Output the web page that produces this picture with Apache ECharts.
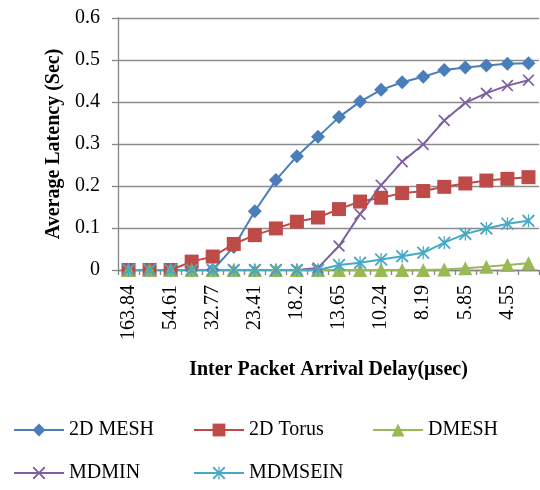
<!DOCTYPE html>
<html>
<head>
<meta charset="utf-8">
<script src="https://cdn.jsdelivr.net/npm/echarts@6/dist/echarts.min.js"></script>
<style>html,body{margin:0;padding:0;background:#fff}#c{width:540px;height:490px}</style>
</head>
<body>
<div id="c"></div>
<script>
var categories = ['163.84','81.92','54.61','40.96','32.77','27.31','23.41','20.48','18.2','16.38','13.65','11.7','10.24','9.1','8.19','6.83','5.85','5.12','4.55','4.1'];
var mesh2d  = [0,0,0,0,0,0.055,0.14,0.214,0.271,0.317,0.364,0.401,0.429,0.447,0.46,0.476,0.482,0.487,0.491,0.492];
var torus2d = [0,0,0,0.02,0.032,0.062,0.083,0.099,0.115,0.125,0.145,0.163,0.172,0.183,0.188,0.198,0.206,0.213,0.217,0.221];
var dmesh   = [0,0,0,0,0,0,0,0,0,0,0,0,0,0,0,0.001,0.004,0.008,0.012,0.016];
var mdmin   = [0,0,0,0,0,0,0,0,0,0.005,0.057,0.133,0.202,0.258,0.299,0.356,0.398,0.421,0.439,0.452];
var mdmsein = [0,0,0,0,0,0,0,0,0,0,0.012,0.017,0.025,0.033,0.041,0.065,0.086,0.099,0.11,0.117];
var yTicks = [0,0.1,0.2,0.3,0.4,0.5,0.6];

var X_PATH = 'path://M0,10 L10,0 L50,40 L90,0 L100,10 L60,50 L100,90 L90,100 L50,60 L10,100 L0,90 L40,50 Z';
var STAR_PATH = 'path://M0,10 L10,0 L50,40 L90,0 L100,10 L60,50 L100,90 L90,100 L50,60 L10,100 L0,90 L40,50 Z M45,0 L55,0 L55,100 L45,100 Z';
var serif = '"Liberation Serif", "DejaVu Serif", serif';

function mk(name, data, color, symbol, size) {
  return {
    name: name, type: 'line', data: data,
    symbol: symbol, symbolSize: size, showAllSymbol: true, symbolKeepAspect: true,
    lineStyle: { color: color, width: 2 },
    itemStyle: { color: color, borderWidth: 0 },
    emphasis: { disabled: true }
  };
}
function lg(name, left, top) {
  return {
    data: [name], left: left, top: top, orient: 'horizontal',
    itemWidth: 50, itemHeight: 16, itemGap: 0, padding: 0,
    textStyle: { fontFamily: serif, fontSize: 20, color: '#000', padding: [0,0,0,0] },
    selectedMode: false
  };
}
var chart = echarts.init(document.getElementById('c'), null, { renderer: 'canvas' });
chart.setOption({
  animation: false,
  backgroundColor: '#fff',
  grid: { left: 118, right: 1, top: 18, bottom: 220, containLabel: false },
  legend: [
    lg('2D MESH', 13, 420), lg('2D Torus', 193, 420), lg('DMESH', 372, 420),
    lg('MDMIN', 13, 463), lg('MDMSEIN', 193, 463)
  ],
  xAxis: {
    type: 'category', data: categories, boundaryGap: true,
    name: 'Inter Packet Arrival Delay(\u00b5sec)', nameLocation: 'middle', nameGap: 90,
    nameTextStyle: { fontFamily: serif, fontSize: 20, fontWeight: 'bold', color: '#000' },
    axisLine: { lineStyle: { color: '#868686', width: 1.3 } },
    axisTick: { show: true, interval: 0, length: 5, inside: false, lineStyle: { color: '#868686', width: 1.3 } },
    axisLabel: { interval: 1, rotate: 90, fontFamily: serif, fontSize: 20, color: '#000', margin: 15 },
    splitLine: { show: false }
  },
  yAxis: {
    type: 'value', min: 0, max: 0.6, interval: 0.1,
    name: 'Average Latency (Sec)', nameLocation: 'middle', nameGap: 53,
    nameTextStyle: { fontFamily: serif, fontSize: 20, fontWeight: 'bold', color: '#000' },
    axisLine: { show: true, lineStyle: { color: '#868686', width: 1.3 } },
    axisTick: { show: true, length: 6, lineStyle: { color: '#868686', width: 1.3 } },
    axisLabel: { fontFamily: serif, fontSize: 20, color: '#000', margin: 18,
      formatter: function (v) { var r = Math.round(v * 10) / 10; return yTicks.indexOf(r) >= 0 ? String(r) : ''; } },
    splitLine: { show: true, lineStyle: { color: '#8c8c8c', width: 1.3 } }
  },
  series: [
    mk('2D MESH', mesh2d, '#4A7EBB', 'diamond', 14),
    mk('2D Torus', torus2d, '#BE4B48', 'rect', 14),
    mk('DMESH', dmesh, '#98B954', 'triangle', 14),
    mk('MDMIN', mdmin, '#7D60A0', X_PATH, 12),
    mk('MDMSEIN', mdmsein, '#46AAC5', STAR_PATH, 13)
  ]
});
</script>
</body>
</html>
